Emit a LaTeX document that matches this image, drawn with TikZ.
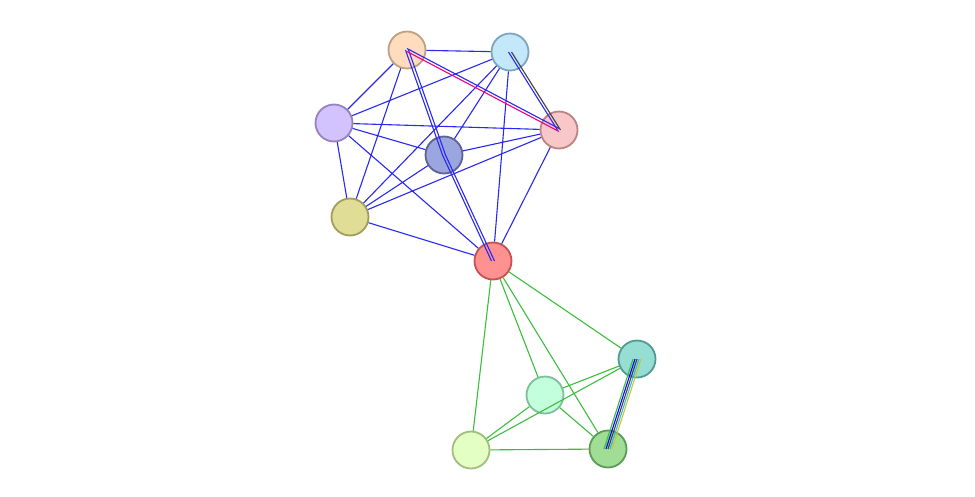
\documentclass[tikz,border=0pt]{standalone}
\usepackage{fontspec}
\setmainfont{Liberation Sans}
\begin{document}
\begin{tikzpicture}[x=1pt,y=-1pt,
 nd/.style={circle,minimum size=37pt,inner sep=0pt,line width=1.8pt},
 lb/.style={font=\fontsize{9}{10}\selectfont,anchor=south west,inner sep=1pt},
 be/.style={draw={rgb,255:red,40;green,40;blue,240},line width=1.1pt},
 ge/.style={draw={rgb,255:red,60;green,190;blue,60},line width=1.1pt}]
\useasboundingbox (0,0) rectangle (975,496);
\node[nd,fill={rgb,255:red,255;green,220;blue,190},draw={rgb,255:red,190;green,160;blue,130}] (a) at (407,50) {};
\node[nd,fill={rgb,255:red,195;green,232;blue,250},draw={rgb,255:red,125;green,165;blue,190}] (b) at (510,52) {};
\node[nd,fill={rgb,255:red,210;green,195;blue,255},draw={rgb,255:red,150;green,130;blue,190}] (c) at (334,123) {};
\node[nd,fill={rgb,255:red,155;green,165;blue,222},draw={rgb,255:red,90;green,100;blue,150}] (d) at (444,155) {};
\node[nd,fill={rgb,255:red,248;green,200;blue,200},draw={rgb,255:red,190;green,130;blue,130}] (e) at (559,130) {};
\node[nd,fill={rgb,255:red,224;green,222;blue,150},draw={rgb,255:red,160;green,158;blue,90}] (f) at (350,217) {};
\node[nd,fill={rgb,255:red,255;green,145;blue,145},draw={rgb,255:red,200;green,80;blue,80}] (g) at (493,261) {};
\node[nd,fill={rgb,255:red,150;green,222;blue,212},draw={rgb,255:red,80;green,155;blue,145}] (h) at (637,359) {};
\node[nd,fill={rgb,255:red,195;green,255;blue,220},draw={rgb,255:red,125;green,190;blue,155}] (i) at (545,395) {};
\node[nd,fill={rgb,255:red,228;green,255;blue,195},draw={rgb,255:red,160;green,190;blue,125}] (j) at (471,450) {};
\node[nd,fill={rgb,255:red,160;green,222;blue,150},draw={rgb,255:red,90;green,155;blue,85}] (k) at (608,449) {};
\begin{scope}[on background layer/.try]
\end{scope}
\begin{pgfonlayer}{main}\end{pgfonlayer}
\path[be] (a)--(b) (a)--(c) (a)--(f) (b)--(c) (b)--(f) (b)--(d) (b)--(g)
 (c)--(e) (c)--(d) (c)--(f) (c)--(g) (d)--(e) (d)--(f) (e)--(f) (e)--(g) (f)--(g);
\path[be] ([xshift=-1.5pt]a.center)--([xshift=-1.5pt]d.center) ([xshift=1.5pt]a.center)--([xshift=1.5pt]d.center);
\path[be] ([xshift=-1.5pt]d.center)--([xshift=-1.5pt]g.center) ([xshift=1.5pt]d.center)--([xshift=1.5pt]g.center);
\path[be] ([yshift=1.5pt]a.center)--([yshift=1.5pt]e.center);
\path[draw=magenta,line width=1.1pt] ([yshift=-1.5pt]a.center)--([yshift=-1.5pt]e.center);
\path[be] ([xshift=-1.5pt]b.center)--([xshift=-1.5pt]e.center);
\path[draw=darkgray,line width=1.1pt] ([xshift=1.5pt]b.center)--([xshift=1.5pt]e.center);
\path[ge] (g)--(h) (g)--(i) (g)--(j) (g)--(k) (h)--(i) (h)--(j) (i)--(j) (i)--(k) (j)--(k);
\foreach \s/\c in {-4/{rgb,255:red,60;green,190;blue,60},-2/blue,0/darkgray,2/{rgb,255:red,60;green,180;blue,230},4/{rgb,255:red,200;green,200;blue,40}}
 \path[draw=\c,line width=1.1pt] ([xshift=\s pt]h.center)--([xshift=\s pt]k.center);
% redraw nodes on top
\foreach \n in {a,b,c,d,e,f,g,h,i,j,k} {}
\end{tikzpicture}
\end{document}
